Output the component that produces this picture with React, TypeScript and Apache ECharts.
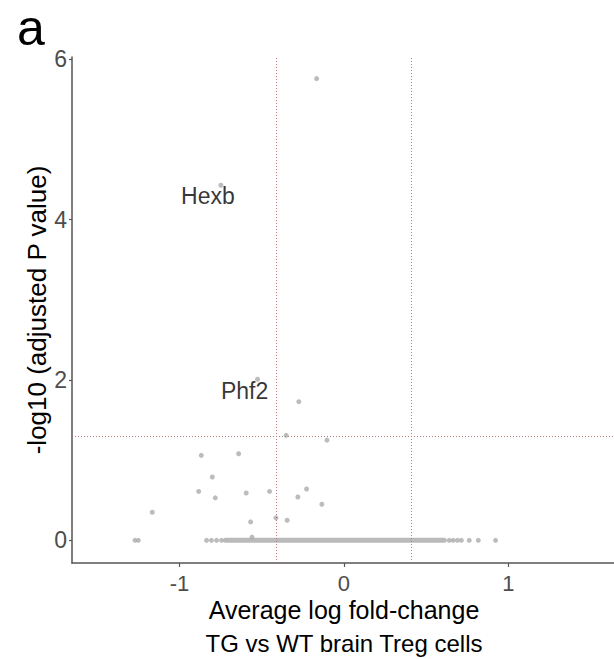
import React, { useEffect, useRef } from "react";
import * as echarts from "echarts";

// Genes off the baseline: average log fold-change and -log10 adjusted P value
const lfc = [-0.166, -0.274, -0.351, -0.103, -0.867, -0.64, -0.8, -0.883, -0.782, -0.594, -0.452, -0.28, -0.227, -0.134, -1.165, -0.567, -0.413, -0.345, -0.559];
const negLogP = [5.76, 1.73, 1.31, 1.25, 1.06, 1.08, 0.79, 0.61, 0.53, 0.59, 0.61, 0.54, 0.64, 0.45, 0.35, 0.23, 0.28, 0.25, 0.04];

// Sparse genes at -log10 P = 0 (outside the dense band)
const zeroRowLfc = [-1.27, -1.25, -0.835, -0.805, -0.774, -0.744, 0.64, 0.664, 0.69, 0.714, 0.762, 0.817, 0.922];
// Dense band of thousands of genes at -log10 P = 0 (start, end)
const zeroBand = [-0.72, 0.61];

// Labelled genes
const geneNames = ["Hexb", "Phf2"];
const geneLfc = [-0.748, -0.525];
const geneNegLogP = [4.43, 2.01];

// Thresholds
const fcCut = 0.405;
const pCut = 1.301;

// Axis ticks
const xTicks = [-1, 0, 1];
const yTicks = [0, 2, 4, 6];

// Titles
const panelLabel = "a";
const xTitleLines = ["Average log fold-change", "TG vs WT brain Treg cells"];
const yTitle = "-log10 (adjusted P value)";

const FONT = "'Liberation Sans', Arial, Helvetica, sans-serif";
const POINT = "#ababab";

export default function App() {
  const ref = useRef<HTMLDivElement>(null);
  useEffect(() => {
    if (!ref.current) return;
    const chart = echarts.init(ref.current, null, { renderer: "svg" });
    const refLine = { color: "#b06a6a", width: 1, type: [1, 2] as any, opacity: 0.9 };
    chart.setOption({
      animation: false,
      backgroundColor: "#ffffff",
      textStyle: { fontFamily: FONT },
      grid: { left: 72, right: 0, top: 57, bottom: 96, containLabel: false, outerBoundsMode: "none" },
      graphic: [
        {
          type: "text",
          x: 17,
          y: 28,
          style: {
            text: panelLabel,
            fontSize: 50,
            fontFamily: FONT,
            fill: "#000",
            align: "left",
            verticalAlign: "middle",
          },
        },
        {
          type: "text",
          x: 344,
          y: 610,
          style: {
            text: xTitleLines[0],
            fontSize: 25,
            fontFamily: FONT,
            fill: "#000",
            align: "center",
            verticalAlign: "middle",
          },
        },
        {
          type: "text",
          x: 344,
          y: 643,
          style: {
            text: xTitleLines[1],
            fontSize: 24,
            fontFamily: FONT,
            fill: "#000",
            align: "center",
            verticalAlign: "middle",
          },
        },
      ],
      xAxis: {
        type: "value",
        min: -1.653,
        max: 1.642,
        splitLine: { show: false },
        axisLine: { show: true, onZero: false, lineStyle: { color: "#555", width: 1.5 } },
        axisTick: { show: true, length: 4, customValues: xTicks, lineStyle: { color: "#555", width: 1.2 } },
        axisLabel: { customValues: xTicks, fontSize: 22, color: "#4d4d4d", margin: 9, fontFamily: FONT },
      },
      yAxis: {
        type: "value",
        min: -0.283,
        max: 6.03,
        splitLine: { show: false },
        axisLine: { show: true, onZero: false, lineStyle: { color: "#555", width: 1.5 } },
        axisTick: { show: true, length: 3, customValues: yTicks, lineStyle: { color: "#555", width: 1.2 } },
        axisLabel: { customValues: yTicks, fontSize: 23, color: "#4d4d4d", margin: 5, fontFamily: FONT },
        name: yTitle,
        nameLocation: "middle",
        nameGap: 22,
        nameMoveOverlap: false,
        nameTextStyle: { fontSize: 26, color: "#000", fontFamily: FONT },
      },
      series: [
        {
          type: "line",
          data: zeroBand.map((x) => [x, 0]),
          symbol: "none",
          silent: true,
          lineStyle: { color: "#bababa", width: 5, cap: "round" },
          z: 1,
          markLine: {
            silent: true,
            symbol: "none",
            label: { show: false },
            lineStyle: refLine,
            data: [{ xAxis: -fcCut }, { xAxis: fcCut }, { yAxis: pCut }],
          },
        },
        {
          type: "scatter",
          data: zeroRowLfc.map((x) => [x, 0]),
          symbolSize: 5,
          itemStyle: { color: POINT },
          z: 2,
        },
        {
          type: "scatter",
          data: lfc.map((x, i) => [x, negLogP[i]]),
          symbolSize: 5,
          itemStyle: { color: POINT },
          z: 2,
        },
        {
          type: "scatter",
          data: geneNames.map((n, i) => ({ name: n, value: [geneLfc[i], geneNegLogP[i]] })),
          symbolSize: 5,
          itemStyle: { color: POINT },
          z: 3,
          label: {
            show: true,
            formatter: "{b}",
            position: "inside",
            fontSize: 23,
            color: "#000",
            fontFamily: FONT,
          },
          labelLayout: (p: any) => {
            const idx = p.dataIndex;
            const off = idx === 0 ? [-13, 11] : [-13, 12];
            return {
              x: p.rect.x + p.rect.width / 2 + off[0],
              y: p.rect.y + p.rect.height / 2 + off[1],
              align: "center",
              verticalAlign: "middle",
            };
          },
        },
      ],
    });
    return () => chart.dispose();
  }, []);
  return (
    <div
      ref={ref}
      style={{ position: "absolute", left: 0, top: 0, width: 614, height: 659 }}
    />
  );
}
